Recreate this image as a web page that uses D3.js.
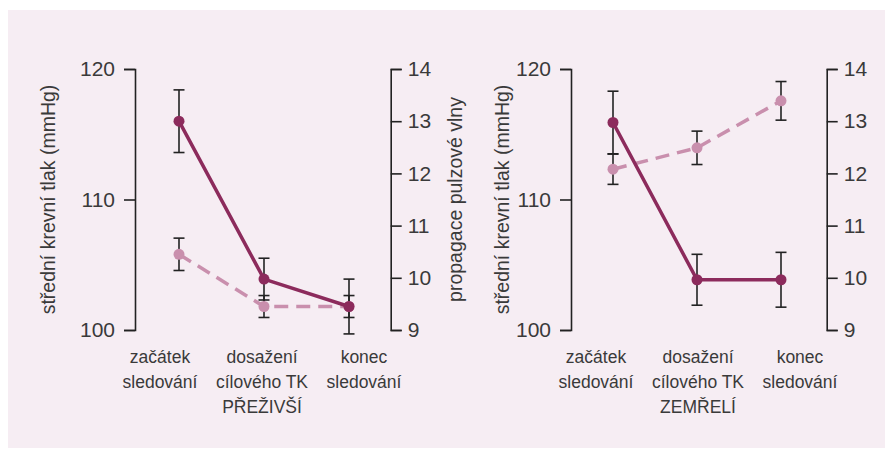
<!DOCTYPE html>
<html>
<head>
<meta charset="utf-8">
<script src="https://cdn.jsdelivr.net/npm/d3@7"></script>
<style>
  body { margin: 0; background: #fff; }
  text { font-family: "Liberation Sans", Arial, sans-serif; fill: #3a3a3a; }
</style>
</head>
<body>
<div id="chart"></div>
<script>
const categories = [["začátek", "sledování"], ["dosažení", "cílového TK"], ["konec", "sledování"]];
const bpTicks = [100, 110, 120];
const pwvTicks = [9, 10, 11, 12, 13, 14];

// přeživší
const survBP = [116.0, 103.9, 101.8];
const survBPErr = [2.4, 1.6, 2.1];
const survPWV = [10.45, 9.45, 9.45];
const survPWVErr = [0.31, 0.21, 0.21];

// zemřelí
const deadBP = [115.9, 103.85, 103.85];
const deadBPErr = [2.4, 1.95, 2.1];
const deadPWV = [12.08, 12.49, 13.39];
const deadPWVErr = [0.29, 0.32, 0.37];

const panels = [
    { title: "PŘEŽIVŠÍ", bp: survBP, bpErr: survBPErr, pwv: survPWV, pwvErr: survPWVErr, x0: 135, pts: [44, 214], titleOff: 87, rightTitle: true },
    { title: "ZEMŘELÍ", bp: deadBP, bpErr: deadBPErr, pwv: deadPWV, pwvErr: deadPWVErr, x0: 571, pts: [42, 210], titleOff: 69, rightTitle: false }
];

const W = 885, H = 450;
const solidColor = "#8c2b5c";
const dashColor = "#c98fad";
const inkColor = "#222";

const svg = d3.select("#chart").append("svg")
    .attr("width", W).attr("height", H);

svg.append("rect")
    .attr("x", 8).attr("y", 10)
    .attr("width", W - 8).attr("height", 438)
    .attr("fill", "#f6edf3");

const yBP = d3.scaleLinear().domain([100, 120]).range([330, 69]);
const yPWV = d3.scaleLinear().domain([9, 14]).range([330, 69]);
const axisW = 255.7;

panels.forEach(p => {
    const g = svg.append("g");
    const x = d3.scalePoint().domain(d3.range(3)).range([p.x0 + p.pts[0], p.x0 + p.pts[1]]);
    const xl = d3.scalePoint().domain(d3.range(3)).range([p.x0 + 25, p.x0 + 229]);

    // axes
    const left = g.append("g").attr("transform", `translate(${p.x0},0)`)
        .call(d3.axisLeft(yBP).tickValues(bpTicks).tickSize(11).tickPadding(9).tickFormat(d3.format("d")));
    const right = g.append("g").attr("transform", `translate(${p.x0 + axisW},0)`)
        .call(d3.axisRight(yPWV).tickValues(pwvTicks).tickSize(11).tickPadding(6).tickFormat(d3.format("d")));
    [left, right].forEach(a => {
        a.selectAll("path, line").attr("stroke", inkColor).attr("stroke-width", 1.6);
        a.selectAll("text").style("font-size", "21px").attr("fill", "#3a3a3a")
            .style("font-family", '"Liberation Sans", Arial, sans-serif');
    });

    g.append("text")
        .attr("transform", `translate(${p.x0 - p.titleOff},${yBP(110)}) rotate(-90)`)
        .attr("text-anchor", "middle").attr("dy", "0.35em")
        .style("font-size", "19.5px")
        .text("střední krevní tlak (mmHg)");
    if (p.rightTitle) {
        g.append("text")
            .attr("transform", `translate(${p.x0 + axisW + 64},${yBP(110)}) rotate(-90)`)
            .attr("text-anchor", "middle").attr("dy", "0.35em")
            .style("font-size", "19.5px")
            .text("propagace pulzové vlny");
    }

    // category labels
    categories.forEach((c, i) => {
        const t = g.append("text").attr("text-anchor", "middle").style("font-size", "17.5px");
        c.forEach((line, j) => {
            t.append("tspan").attr("x", xl(i)).attr("y", 363 + j * 25).text(line);
        });
    });
    g.append("text").attr("x", xl(1)).attr("y", 413).attr("text-anchor", "middle")
        .style("font-size", "17.5px").text(p.title);

    // error bars
    const errs = [];
    p.bp.forEach((v, i) => errs.push({ x: x(i), lo: yBP(v - p.bpErr[i]), hi: yBP(v + p.bpErr[i]) }));
    p.pwv.forEach((v, i) => errs.push({ x: x(i), lo: yPWV(v - p.pwvErr[i]), hi: yPWV(v + p.pwvErr[i]) }));
    const eb = g.append("g").attr("stroke", inkColor).attr("stroke-width", 1.6);
    errs.forEach(e => {
        eb.append("line").attr("x1", e.x).attr("x2", e.x).attr("y1", e.lo).attr("y2", e.hi);
        eb.append("line").attr("x1", e.x - 5.5).attr("x2", e.x + 5.5).attr("y1", e.lo).attr("y2", e.lo);
        eb.append("line").attr("x1", e.x - 5.5).attr("x2", e.x + 5.5).attr("y1", e.hi).attr("y2", e.hi);
    });

    // dashed PWV series
    g.append("path").datum(p.pwv)
        .attr("fill", "none").attr("stroke", dashColor).attr("stroke-width", 3.5)
        .attr("stroke-dasharray", "14,8")
        .attr("d", d3.line().x((d, i) => x(i)).y(d => yPWV(d)));
    g.selectAll(".pd").data(p.pwv).enter().append("circle")
        .attr("cx", (d, i) => x(i)).attr("cy", d => yPWV(d)).attr("r", 5.5)
        .attr("fill", dashColor);

    // solid BP series
    g.append("path").datum(p.bp)
        .attr("fill", "none").attr("stroke", solidColor).attr("stroke-width", 3.5)
        .attr("d", d3.line().x((d, i) => x(i)).y(d => yBP(d)));
    g.selectAll(".bd").data(p.bp).enter().append("circle")
        .attr("cx", (d, i) => x(i)).attr("cy", d => yBP(d)).attr("r", 5.5)
        .attr("fill", solidColor);
});
</script>
</body>
</html>
